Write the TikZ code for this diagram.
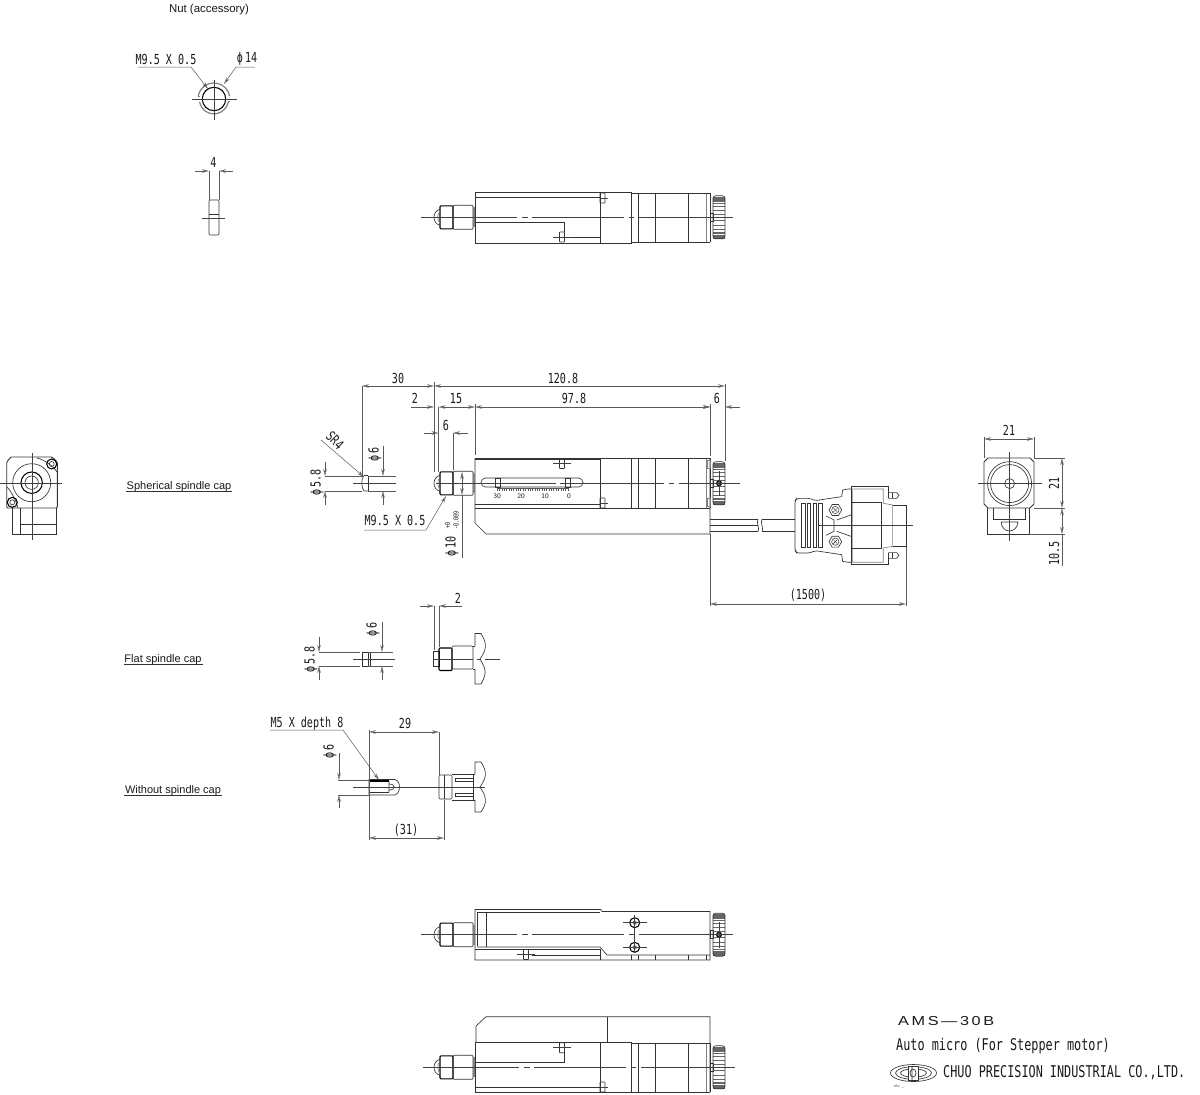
\documentclass[tikz,border=0pt]{standalone}
\usepackage{fontspec}
\usetikzlibrary{arrows.meta}
\setmainfont{Liberation Sans}
\newfontfamily\dimfont[FakeStretch=0.73]{DejaVu Sans Mono}
\newfontfamily\widefont[FakeStretch=1.25,LetterSpace=20]{Liberation Sans}
\definecolor{dimgray}{gray}{0.35}
\tikzset{
  >={Stealth[open,length=7pt,width=3.6pt]},
  outline/.style={draw=black!80,line width=.65pt},
  heavy/.style={draw=black,line width=1.05pt},
  center/.style={draw=black!75,line width=.5pt},
  longcenter/.style={center,dash pattern=on 96pt off 5pt on 6pt off 4pt on 92pt off 5pt on 5pt off 5pt on 120pt off 0pt},
  dimline/.style={draw=dimgray,line width=.5pt},
  dimtext/.style={font=\dimfont\fontsize{13.8}{14}\selectfont,inner sep=0pt,text=black!90,yshift=-.4pt},
  dimrot/.style={dimtext,rotate=90,yshift=-2pt},
  titletext/.style={font=\dimfont\fontsize{16.2}{17}\selectfont,inner sep=0pt,anchor=west,text=black!90,yshift=-1.5pt},
  captext/.style={font=\fontsize{11}{12}\selectfont,inner sep=0pt,text=black!90,yshift=-1.5pt}
}
% spindle with spherical cap, #1 = centre line
\newcommand{\capspindle}[1]{
\draw[heavy,rounded corners=1pt] (440,#1-11.5) rectangle (453,#1+11.5);
\draw[outline,rounded corners=1pt] (453,#1-12) rectangle (473,#1+12);
\fill[gray] (473,#1-10) rectangle (475,#1+10);
\draw[outline] (440,#1-8) .. controls (432,#1-6) and (432,#1+6) .. (440,#1+8);
\draw[outline,draw=gray] (440,#1-6) .. controls (437,#1-3) and (437,#1+3) .. (440,#1+6);
}
% knob at the motor end, #1 = centre line
\newcommand{\knob}[1]{
\draw[outline] (710,#1-4) rectangle (713,#1+4);
\foreach \k in {20.5,19.5,18.5,17.5,16.3,14.5,11.5,7.5,3} {
  \draw[draw=black!60,line width=.5pt] (713,#1-\k) -- (725,#1-\k);
  \draw[draw=black!60,line width=.5pt] (713,#1+\k) -- (725,#1+\k);
}
\draw[outline,rounded corners=2.5pt] (713,#1-21.5) rectangle (725,#1+21.5);
}
% motor rings, #1 top, #2 bottom
\newcommand{\rings}[2]{
\foreach \r in {638,655,688} {\draw[outline] (\r,#1) -- (\r,#2);}
\draw[outline,draw=gray] (706,#1) -- (706,#2);
\draw[outline] (710,#1) -- (710,#2);
\draw[outline] (631,#1) -- (710,#1);
\draw[outline] (631,#2) -- (710,#2);
}
% small set screw, #1 x, #2 y
\newcommand{\setscrew}[2]{
\draw[outline,rounded corners=.5pt] (#1-2.5,#2-5) rectangle (#1+2.5,#2+5);
\draw[center] (#1-9,#2) -- (#1+9,#2);
}
% set screw on the motor edge, #1 y
\newcommand{\edgescrew}[1]{
\draw[outline,rounded corners=.5pt] (600,#1-5) rectangle (605,#1+5);
\draw[center] (600,#1) -- (608,#1);
}
\begin{document}
\begin{tikzpicture}[x=1pt,y=-1pt]
\useasboundingbox (0,0) rectangle (1200,1095);

% nut
\node[captext,font=\fontsize{11.4}{12}\selectfont] (nutlabel) at (209,8) {Nut (accessory)};
\draw[heavy] (214,99) circle (11.7);
\draw[outline,draw=gray,line width=1.2pt] (198.2,96.2) arc (190:350:16) (199.6,101.8) arc (170:10:14.6);
\draw[outline,draw=gray,line width=1.2pt] (198.2,96.2) -- (199.6,96.2) (228.4,101.8) -- (229.8,101.8);
\draw[center] (192,99) -- (237,99);
\draw[center] (214,80) -- (214,120);
\node[dimtext] (nutthread) at (166,59) {M9.5 X 0.5};
\node[dimtext] (nutdia) at (247,59) {ϕ\,14};
\draw[dimline,->] (138,67) -- (191,67) -- (208,89);
\draw[dimline,->] (255,67) -- (236,67) -- (224,84);
\draw[outline,rounded corners=1pt] (209,200) rectangle (219,235);
\draw[outline] (209,214) -- (219,214);
\draw[center] (202,218) -- (225,218);
\draw[dimline] (209,171) -- (209,200);
\draw[dimline] (219,171) -- (219,200);
\draw[dimline,->] (195,171) -- (209,171);
\draw[dimline,->] (233,171) -- (219,171);
\node[dimtext] (nutwidth) at (213.5,162) {4};

% top view
\draw[outline] (475,192) rectangle (600,243);
\draw[outline] (475,197.3) -- (600,197.3);
\draw[outline] (475,222.3) -- (564,222.3) -- (564,232);
\draw[outline] (566,237) -- (600,237);
\setscrew{562}{237}
\edgescrew{198}
\draw[outline,line width=.9pt] (600,192) rectangle (631,243);
\rings{193}{242}
\capspindle{217.3}
\knob{217.3}
\draw[longcenter] (421,217.3) -- (733,217.3);

% main view
\draw[outline] (475,458) -- (631,458) (475,459.5) -- (600,459.5);
\draw[outline] (475,458) -- (475,523) -- (486,534) -- (710,534) -- (710,458);
\draw[outline] (475,504) -- (600,504);
\draw[outline] (475,508) -- (631,508);
\draw[outline,line width=.9pt] (600,458) -- (600,508) (631,458) -- (631,508);
\rings{458}{508}
\draw[outline,draw=gray] (707,460) rectangle (710,468) (707,498) rectangle (710,506);
\setscrew{562}{463.5}
\edgescrew{503}
\draw[outline,rounded corners=4.5pt] (481,478) rectangle (583,487);
\draw[outline] (495,478) rectangle (500,487) (565,478) rectangle (570,487);
\foreach \t in {0,2.36,...,71} {\draw[draw=black!65,line width=.35pt] (497+\t,488) -- (497+\t,491);}
\draw[draw=black!65,line width=.35pt] (497,488) -- (568,488);
\node[dimtext,font=\fontsize{7}{8}\selectfont\sffamily] (scalea) at (497,496) {30};
\node[dimtext,font=\fontsize{7}{8}\selectfont\sffamily] (scaleb) at (521,496) {20};
\node[dimtext,font=\fontsize{7}{8}\selectfont\sffamily] (scalec) at (545,496) {10};
\node[dimtext,font=\fontsize{7}{8}\selectfont\sffamily] (scaled) at (569,496) {0};
\capspindle{483.3}
\knob{483.3}
\draw[draw=black,line width=1.1pt,fill=gray] (719,483.3) circle (2.4);
\draw[center] (719,471) -- (719,496);
\draw[center,dash pattern=on 120pt off 4pt on 104pt off 5pt on 5pt off 5pt on 70pt off 0pt] (436,483.3) -- (740,483.3);
% spherical cap
\draw[outline] (368,475.5) -- (364,475.5) .. controls (361,479) and (361,487) .. (364,491) -- (368,491);
\draw[outline] (368,475.5) -- (368,491);
\draw[center] (353,483.3) -- (396,483.3);
\draw[dimline] (325,476) -- (362,476) (325,491) -- (362,491) (368,476) -- (396,476) (368,491) -- (396,491);
\draw[dimline] (362,386) -- (362,477);
\draw[dimline] (434,382) -- (434,472);
\draw[dimline] (438.5,407) -- (438.5,472);
\draw[dimline] (453,433) -- (453,470);
\draw[dimline] (475,404) -- (475,455);
\draw[dimline] (710,404) -- (710,456);
\draw[dimline] (725,384) -- (725,461);
\draw[dimline,<->] (362,386) -- (434,386);
\draw[dimline,<->] (434,386) -- (725,386);
\draw[dimline,->] (411,407) -- (434,407);
\draw[dimline,<->] (438.5,407) -- (475,407);
\draw[dimline,<->] (475,407) -- (710,407);
\draw[dimline,->] (696,407) -- (710,407);
\draw[dimline,->] (740,407) -- (725,407);
\draw[dimline,->] (424,433) -- (438.5,433);
\draw[dimline,->] (468,433) -- (453,433);
\draw[dimline,->] (383,446) -- (383,476);
\draw[dimline,->] (383,505) -- (383,491);
\draw[dimline,->] (325,462) -- (325,476);
\draw[dimline,->] (325,505) -- (325,491);
\draw[dimline,<->] (462,472) -- (462,495);
\draw[dimline] (462,495) -- (462,558);
\draw[dimline,->] (321,440) -- (364,477);
\draw[dimline,->] (364,530) -- (426,530) -- (446,496);
\node[dimtext] (dimcapstroke) at (398,378) {30};
\node[dimtext] (dimtotal) at (563,378) {120.8};
\node[dimtext] (dimgap) at (415,398) {2};
\node[dimtext] (dimnose) at (456,398) {15};
\node[dimtext] (dimbody) at (574,398) {97.8};
\node[dimtext] (dimknob) at (717,398) {6};
\node[dimtext] (dimnut) at (446,425) {6};
\node[dimrot] (dimcapa) at (373,454) {ϕ\,6};
\node[dimrot] (dimcapb) at (315,482) {ϕ\,5.8};
\node[dimtext,rotate=-45] (dimsr) at (335,440) {SR4};
\node[dimtext] (dimthread) at (395,520) {M9.5 X 0.5};
\node[dimrot] (dimshaft) at (450,546) {ϕ\,10};
\node[dimrot,font=\dimfont\fontsize{7}{8}\selectfont] (dimtolup) at (445.5,525.5) {+0};
\node[dimrot,font=\dimfont\fontsize{7}{8}\selectfont] (dimtollo) at (454,520) {-0.009};
\node[captext] (capa) at (179,485) {Spherical spindle cap};
\draw[outline] (126,491) -- (232,491);

% cable and connector
\draw[outline] (710,519) -- (758,519) (710,525.7) -- (758,525.7) (710,531.7) -- (758,531.7);
\draw[outline] (762,519) -- (795,519) (762,531.7) -- (795,531.7);
\draw[outline] (758,519) .. controls (756,523) and (760,528) .. (758,531.7);
\draw[outline] (762,519) .. controls (760,523) and (764,528) .. (762,531.7);
\begin{scope}[shift={(700,420)},x=.3333pt,y=-.3333pt]
\draw[outline,rounded corners=2pt] (425,230) -- (345,242) -- (330,235) -- (290,235) -- (285,242) -- (285,392) -- (290,399) -- (330,399) -- (345,392) -- (425,404);
\draw[outline] (425,230) -- (428,210) -- (445,207) -- (453,207) (425,404) -- (428,424) -- (445,427) -- (453,427);
\draw[outline] (453,200) -- (565,200) -- (565,235) (453,433) -- (565,433) -- (565,399);
\draw[outline] (453,200) -- (453,433);
\draw[outline,draw=gray] (458,207) -- (550,207) -- (550,250) -- (578,255) -- (578,379) -- (550,384) -- (550,427) -- (458,427) -- (458,207);
\draw[outline] (453,247) rectangle (545,385);
\draw[outline] (578,257) -- (618,257) -- (618,380) -- (578,380);
\draw[outline] (565,218) -- (590,218) -- (597,226) -- (590,235) -- (565,235);
\draw[outline] (565,398) -- (590,398) -- (597,406) -- (590,415) -- (565,415);
\draw[outline] (578,218) -- (578,235) (578,398) -- (578,415);
\foreach \s in {305,322,339,356} {\draw[outline,line width=.5pt] (\s,250) rectangle (\s+10,382);}
\foreach \c in {270,365} {
  \draw[outline] (406,\c) ++(0:19) -- ++(120:19) -- ++(180:19) -- ++(240:19) -- ++(300:19) -- ++(0:19) -- cycle;
  \draw[outline,line width=.5pt] (406,\c) circle (11);
  \draw[outline,line width=.4pt] (400,\c-6) -- (412,\c+6) (400,\c+6) -- (412,\c-6);
}
\draw[outline] (378,288) -- (402,300) -- (402,334) -- (378,346);
\draw[outline] (410,300) -- (453,285) (410,334) -- (453,349);
\draw[center] (355,317) -- (640,317);
\end{scope}
\draw[dimline] (710,534) -- (710,606);
\draw[dimline] (906,547) -- (906,606);
\draw[dimline,<->] (710,604) -- (906,604);
\node[dimtext] (dimcable) at (808,595) {(1500)};

% motor end view
\draw[outline,line width=.9pt] (988,458) -- (1030,458) -- (1034,462) -- (1034,504) -- (1030,508) -- (988,508) -- (984,504) -- (984,462) -- cycle;
\draw[outline] (1009.6,483.6) circle (22) circle (19) circle (5);
\draw[outline,line width=.9pt] (993,508) -- (993,519) -- (1025,519) -- (1025,508);
\draw[outline] (987,508) -- (987,534) -- (1029,534) -- (1029,508);
\draw[outline] (1001,522) .. controls (1002,534) and (1017,534) .. (1018,522) -- (1001,522);
\draw[center] (978,483.6) -- (1042,483.6);
\draw[center] (1009.6,452) -- (1009.6,541);
\draw[dimline] (984,437) -- (984,458) (1034,437) -- (1034,458);
\draw[dimline] (1034,458) -- (1065,458) (1034,508) -- (1065,508) (1029,534) -- (1065,534);
\draw[dimline,<->] (984,439) -- (1034,439);
\draw[dimline,<->] (1062,458) -- (1062,508);
\draw[dimline,<->] (1062,508) -- (1062,534);
\draw[dimline] (1062,534) -- (1062,566);
\node[dimtext] (dimwidth) at (1009,430) {21};
\node[dimrot] (dimheight) at (1052,483) {21};
\node[dimrot] (dimunder) at (1052,553) {10.5};

% spindle end view
\draw[outline,line width=.9pt,rounded corners=1pt] (11,457) -- (36,457) (11,457) -- (6.7,462) -- (6.7,508) -- (57.3,508) -- (57.3,462) -- (52,457) -- (36,457);
\draw[outline] (37,458) .. controls (45,460) and (53,466) .. (57,472);
\draw[outline] (7,487) .. controls (11,491) and (16,500) .. (18,508);
\draw[outline] (31.7,482.7) circle (19);
\draw[heavy] (31.7,482.7) circle (10.7);
\draw[outline] (31.7,482.7) circle (6.7);
\foreach \sx/\sy in {51.7/464,12.3/502.3} {
  \draw[heavy] (\sx,\sy) circle (5);
  \draw[outline] (\sx,\sy) circle (2.5);
}
\draw[outline] (12.7,508) -- (12.7,534) -- (56,534) -- (56,508);
\draw[outline] (20,508) -- (20,534) (20,524) -- (56,524);
\draw[center] (0,483) -- (62,483);
\draw[center] (32,453) -- (32,540);

% flat cap
\node[captext] (capb) at (163,658) {Flat spindle cap};
\draw[outline] (124,664) -- (203,664);
\draw[outline] (362,652) rectangle (370,666);
\draw[outline] (368,652) -- (368,666);
\draw[dimline] (319,652) -- (360,652) (319,666) -- (360,666) (368,652) -- (393,652) (368,666) -- (393,666);
\draw[center] (353,659) -- (395,659);
\draw[dimline,->] (382,622) -- (382,652);
\draw[dimline,->] (382,680) -- (382,666);
\draw[dimline,->] (319,637) -- (319,652);
\draw[dimline,->] (319,680) -- (319,666);
\node[dimrot] (flatdia) at (371,629) {ϕ\,6};
\node[dimrot] (flatcap) at (309,659) {ϕ\,5.8};
\draw[outline] (433,651) rectangle (439,666);
\draw[heavy,rounded corners=1pt] (439,648) rectangle (452,670.5);
\draw[outline,rounded corners=1pt] (452,646) rectangle (473,669);
\draw[outline] (475,646) -- (475,633.5) -- (481,633.5) .. controls (488,645) and (486,650) .. (480,659) .. controls (485,668) and (488,672) .. (481,684) -- (475,684) -- (475,669);
\draw[outline] (473,646) -- (475,646) (473,669) -- (475,669);
\draw[center,dash pattern=on 40pt off 4pt on 4pt off 4pt on 70pt] (433,659) -- (500,659);
\draw[dimline] (434,606) -- (434,650) (439,606) -- (439,647);
\draw[dimline,->] (420,606) -- (434,606);
\draw[dimline,->] (462,606) -- (439,606);
\node[dimtext] (flatgap) at (458,598) {2};

% without cap
\node[captext] (capc) at (173,789) {Without spindle cap};
\draw[outline] (124,795) -- (222,795);
\node[dimtext] (holetext) at (307,723) {M5 X depth 8};
\draw[dimline,->] (270,730) -- (343,730) -- (379,780);
\draw[outline] (369,779.5) -- (395,779.5) .. controls (401,781) and (401,793) .. (395,795) -- (369,795) -- cycle;
\draw[heavy] (369,781) -- (389,781);
\draw[outline] (369,792) -- (389,792);
\draw[outline] (389,781) -- (389,792) (389,784) .. controls (396,784) and (396,790) .. (389,790);
\draw[dimline] (338,780) -- (369,780) (338,795) -- (369,795);
\draw[center] (353,787) -- (485,787);
\draw[dimline,->] (339,753) -- (339,780);
\draw[dimline,->] (339,808) -- (339,795);
\node[dimrot] (boredia) at (328,751) {ϕ\,6};
\draw[outline,rounded corners=1pt] (439,775) rectangle (452,799);
\draw[outline] (444,775) -- (444,799);
\draw[outline] (452,774) -- (473,774) -- (473,800) -- (452,800);
\draw[outline] (455,778) rectangle (473,781) (455,793) rectangle (473,796);
\draw[outline] (475,774) -- (475,762) -- (481,762) .. controls (488,773) and (486,778) .. (480,787) .. controls (486,796) and (488,802) .. (481,812) -- (475,812) -- (475,800);
\draw[outline] (473,774) -- (475,774) (473,800) -- (475,800);
\draw[dimline] (369,730) -- (369,840) (439,732) -- (439,775) (444,800) -- (444,840);
\draw[dimline,<->] (369,732) -- (439,732);
\draw[dimline,<->] (369,838) -- (444,838);
\node[dimtext] (holelen) at (405,723) {29};
\node[dimtext] (holedepth) at (406,830) {(31)};

% view from below
\draw[outline] (475,909.5) -- (601,909.5) -- (602,911.5) -- (710,911.5) -- (710,960) -- (475,960) -- cycle;
\draw[outline] (478,912) -- (600,912);
\draw[outline] (477,912) -- (477,946);
\draw[outline] (486,912) -- (486,947);
\draw[outline] (477,947) -- (600,947) -- (607,955) -- (710,955);
\draw[outline] (475,949.5) -- (600,949.5) -- (600,960);
\setscrew{526}{954.5}
\draw[outline] (532,955) -- (600,955);
\foreach \r in {631,638,655,688,706} {\draw[outline] (\r,955) -- (\r,960);}
\foreach \s in {922.7,947.3} {
  \draw[heavy] (634.7,\s) circle (5);
  \fill[gray] (634.7,\s) circle (2.2);
  \draw[center] (623,\s) -- (647,\s);
}
\draw[center] (634.7,915) -- (634.7,953);
\capspindle{934.7}
\knob{934.7}
\draw[draw=black,line width=1.1pt,fill=gray] (719,934.7) circle (2.4);
\draw[center] (719,922) -- (719,948);
\draw[longcenter] (421,934.7) -- (733,934.7);

% view with bracket on top
\draw[outline] (476,1042) -- (476,1026) -- (486,1016.7) -- (710,1016.7) -- (710,1092);
\draw[outline] (607,1016.7) -- (607,1042);
\draw[outline] (475,1042) rectangle (600,1092);
\draw[outline] (475,1087) -- (600,1087);
\draw[outline] (475,1062) -- (564,1062) -- (564,1052);
\setscrew{562}{1047.7}
\edgescrew{1087}
\draw[outline,line width=.9pt] (600,1042) rectangle (631,1092);
\rings{1043}{1092}
\capspindle{1067.3}
\knob{1067.3}
\draw[longcenter] (423,1067.3) -- (735,1067.3);

% title block
\node[inner sep=0pt,anchor=west,font=\widefont\fontsize{13}{14}\selectfont,text=black!90] (model) at (898,1021) {AMS—30B};
\node[titletext] (product) at (896,1045) {Auto micro (For Stepper motor)};
\node[titletext] (maker) at (943,1071) {CHUO PRECISION INDUSTRIAL CO.,LTD.};
\draw[outline] (913.5,1073) ellipse (23 and 8.5);
\draw[outline] (913.5,1073) ellipse (18 and 6.3);
\draw[outline] (913.5,1073) ellipse (13 and 4.2);
\draw[outline,fill=white] (908,1066) rectangle (918,1080);
\draw[outline] (912,1066) -- (912,1080) (913,1073) ellipse (3 and 4);
\node[inner sep=0pt,font=\fontsize{4}{5}\selectfont,text=black!70] (revision) at (899,1087) {rev. \_};
\end{tikzpicture}
\end{document}
